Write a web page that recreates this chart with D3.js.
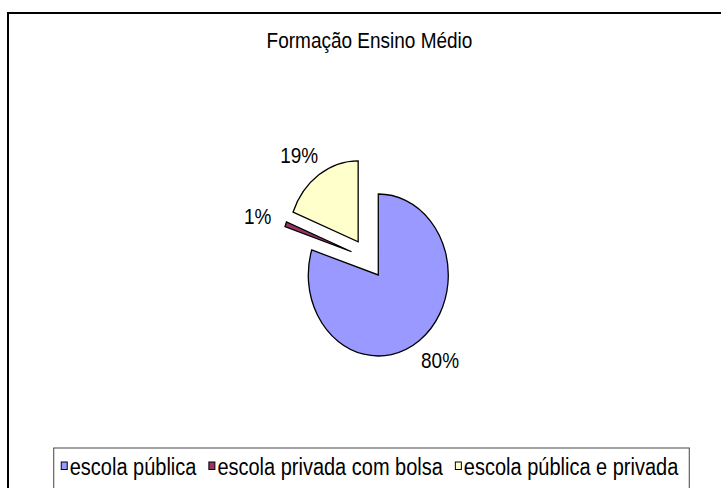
<!DOCTYPE html>
<html>
<head>
<meta charset="utf-8">
<script src="https://cdn.jsdelivr.net/npm/d3@7"></script>
<style>
  body { margin: 0; background: #fff; }
  svg text { font-family: "Liberation Sans", Arial, sans-serif; fill: #000; }
</style>
</head>
<body>
<div id="chart"></div>
<script>
// data
const title = "Formação Ensino Médio";
const categories = ["escola pública", "escola privada com bolsa", "escola pública e privada"];
const values = [80, 1, 19];
const colors = ["#9999ff", "#993366", "#ffffcc"];

const width = 721, height = 488;
// the original picture is stretched vertically, text included
const stretch = 81 / 70;

const svg = d3.select("#chart").append("svg")
  .attr("width", width)
  .attr("height", height);

// chart border (runs off the right / bottom of the picture)
svg.append("rect")
  .attr("x", 8).attr("y", 13)
  .attr("width", 723).attr("height", 500)
  .attr("fill", "#fff")
  .attr("stroke", "#000")
  .attr("stroke-width", 2);

const cx = 369.5;

function tallText(sel, x, y) {
  return sel.attr("transform", `translate(${x},${y}) scale(1,${stretch})`);
}

tallText(svg.append("text"), cx, 48)
  .attr("text-anchor", "middle")
  .style("font-size", "19px")
  .text(title);

// pie, squashed horizontally like the original
const R = 81, sx = 1 / stretch, explode = 0.25 * R;
const center = [368, 258.6];

const pie = d3.pie().sort(null).value(d => d);
const arc = d3.arc().innerRadius(0).outerRadius(R);
const arcs = pie(values);

const g = svg.append("g")
  .attr("transform", `translate(${center[0]},${center[1]}) scale(${sx},1)`);

g.selectAll("path")
  .data(arcs)
  .enter().append("path")
  .attr("d", arc)
  .attr("transform", d => {
    const m = (d.startAngle + d.endAngle) / 2;
    return `translate(${explode * Math.sin(m)},${-explode * Math.cos(m)})`;
  })
  .attr("fill", (d, i) => colors[i])
  .attr("stroke", "#000")
  .attr("stroke-width", 1.3)
  .attr("stroke-linejoin", "miter")
  .attr("vector-effect", "non-scaling-stroke");

// percentage labels, placed just outside each slice
const total = d3.sum(values);
const labelGap = 16, digitH = 13.6 * stretch;
const labels = svg.append("g");
arcs.forEach(d => {
  const m = (d.startAngle + d.endAngle) / 2;
  const s = Math.sin(m), c = -Math.cos(m);
  const px = center[0] + sx * (explode + R) * s;
  const py = center[1] + (explode + R) * c;
  const t = labels.append("text")
    .style("font-size", "19px")
    .attr("text-anchor", "middle")
    .text(Math.round(d.value / total * 100) + "%");
  const w = t.node().getComputedTextLength();
  const lx = px + s * (labelGap + w / 2);
  const ly = py + c * (labelGap + digitH / 2);
  tallText(t, lx, ly + digitH / 2);
});

// legend
const legend = svg.append("g");
const box = legend.append("rect")
  .attr("fill", "#fff")
  .attr("stroke", "#444")
  .attr("stroke-width", 1);

const items = legend.append("g");
let x = 0;
categories.forEach((name, i) => {
  items.append("rect")
    .attr("x", x + 0.5).attr("y", 462)
    .attr("width", 6).attr("height", 7.5)
    .attr("fill", colors[i])
    .attr("stroke", "#000")
    .attr("stroke-width", 1);
  const t = tallText(items.append("text"), x + 9, 474.5)
    .style("font-size", "20px")
    .text(name);
  x += 9 + t.node().getComputedTextLength() + 12;
});
const itemsW = x - 12;
const x0 = cx - itemsW / 2;
items.attr("transform", `translate(${x0},0)`);
box.attr("x", x0 - 7).attr("y", 448)
  .attr("width", itemsW + 18).attr("height", 60);
</script>
</body>
</html>
